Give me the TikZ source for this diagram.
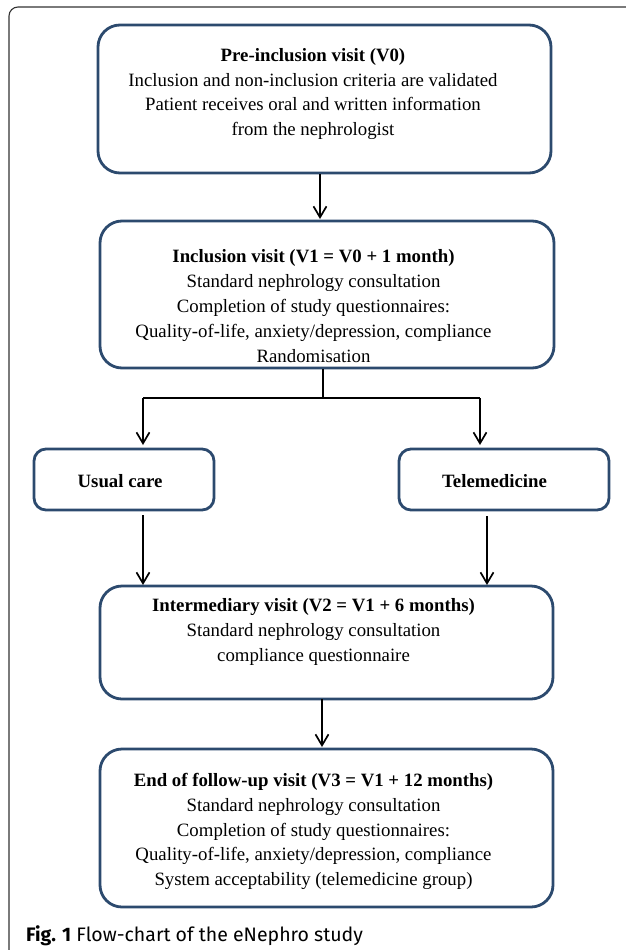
\documentclass[tikz,border=0pt]{standalone}
\usepackage{fontspec}
\setmainfont{Liberation Serif}
\newfontfamily\capfont{Fira Sans}
\usetikzlibrary{arrows.meta}
\definecolor{boxblue}{HTML}{2C4A6E}
\tikzset{
  bigbox/.style={draw=boxblue, line width=2.8pt, rounded corners=22pt, inner sep=0pt},
  smallbox/.style={draw=boxblue, line width=2.8pt, rounded corners=12pt, inner sep=0pt},
  boxtext/.style={align=center, font=\fontsize{18.8}{24.8}\selectfont, inner sep=0pt},
  arr/.style={line width=1.7pt, -{Straight Barb[length=11pt,width=13pt,line width=1.7pt]}},
  plain/.style={line width=1.7pt}
}
\begin{document}
\begin{tikzpicture}[x=1pt,y=-1pt]
\useasboundingbox (0,0) rectangle (625,950);
% outer frame
\draw[line width=1.1pt, color=black!80, rounded corners=9pt] (9,960) -- (9,7) -- (640,7);
% boxes
\node[bigbox, minimum width=453pt, minimum height=148pt] (b1) at (324.5,99) {};
\node[boxtext] (t1) at (313,94) {\textbf{Pre-inclusion visit (V0)}\\Inclusion and non-inclusion criteria are validated\\Patient receives oral and written information\\from the nephrologist};
\node[bigbox, minimum width=454pt, minimum height=147pt] (b2) at (327,294.5) {};
\node[boxtext] (t2) at (313.5,306) {\textbf{Inclusion visit (V1 = V0 + 1 month)}\\Standard nephrology consultation\\Completion of study questionnaires:\\Quality-of-life, anxiety/depression, compliance\\Randomisation};
\node[smallbox, minimum width=180pt, minimum height=61pt] (uc) at (124,479.5) {};
\node[boxtext] (tuc) at (120,481) {\textbf{Usual care}};
\node[smallbox, minimum width=210pt, minimum height=61pt] (tm) at (504,479.5) {};
\node[boxtext] (ttm) at (494.5,481) {\textbf{Telemedicine}};
\node[bigbox, minimum width=453pt, minimum height=113pt] (b3) at (326.5,642.5) {};
\node[boxtext] (t3) at (313.5,632) {\textbf{Intermediary visit (V2 = V1 + 6 months)}\\Standard nephrology consultation\\compliance questionnaire};
\node[bigbox, minimum width=453pt, minimum height=158pt] (b4) at (326.5,828) {};
\node[boxtext] (t4) at (313.5,831.5) {\textbf{End of follow-up visit (V3 = V1 + 12 months)}\\Standard nephrology consultation\\Completion of study questionnaires:\\Quality-of-life, anxiety/depression, compliance\\System acceptability (telemedicine group)};
% caption
\node[anchor=base west, inner sep=0pt, font=\capfont\fontsize{19.5}{22}\selectfont] (cap) at (26,941) {\textbf{Fig. 1} Flow-chart of the eNephro study};
% connectors
\coordinate (a1s) at (320,173);
\coordinate (a1e) at (320,219);
\draw[arr] (b1.south -| a1s) -- (a1e);
\coordinate (sp) at (323,398);
\coordinate (spl) at (143,398);
\coordinate (spr) at (480,398);
\draw[plain] (b2.south -| sp) -- (sp);
\draw[plain] (spl) -- (spr);
\coordinate (ucin) at (143,445);
\coordinate (tmin) at (480,445);
\draw[arr] (spl) -- (ucin);
\draw[arr] (spr) -- (tmin);
\coordinate (ul) at (143,515);
\coordinate (ule) at (143,585);
\coordinate (tr) at (487,516);
\coordinate (tre) at (487,585);
\draw[arr] (ul) -- (ule);
\draw[arr] (tr) -- (tre);
\coordinate (a4s) at (322,699);
\coordinate (a4e) at (322,747);
\draw[arr] (a4s) -- (a4e);
\end{tikzpicture}
\end{document}
